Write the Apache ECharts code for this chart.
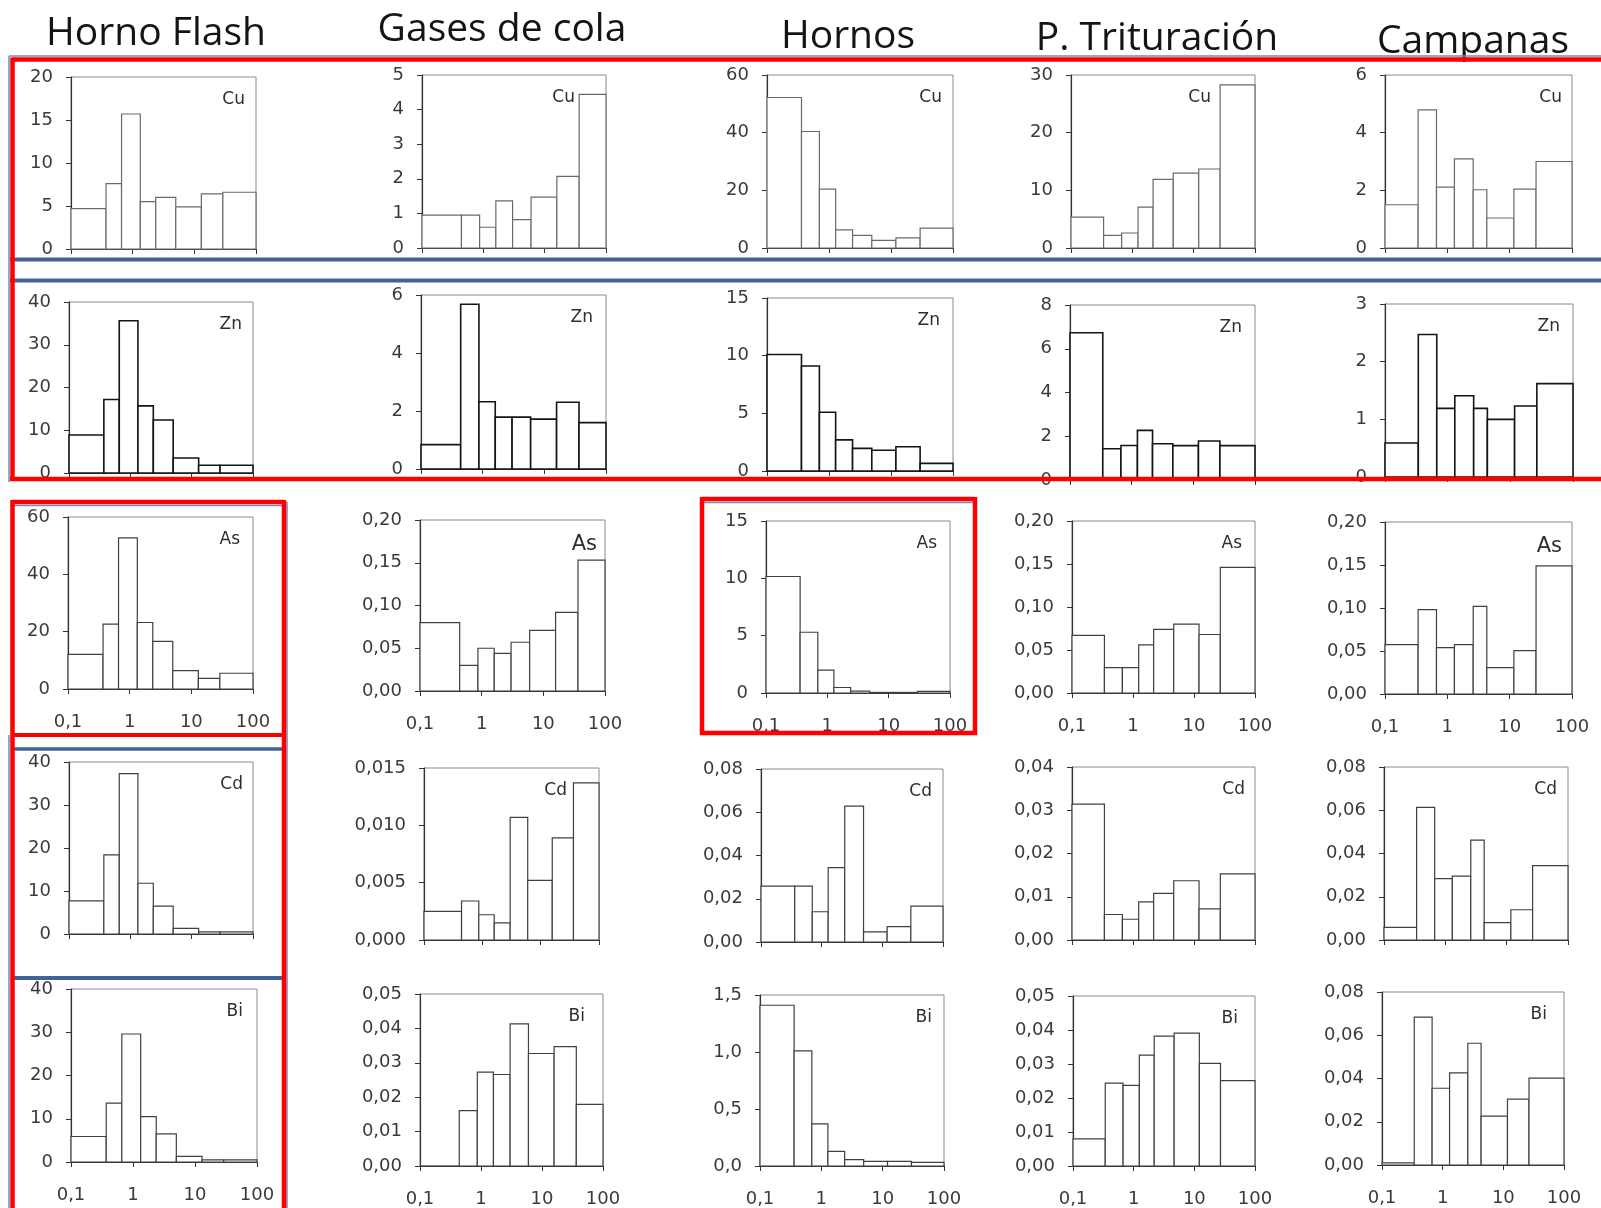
<!DOCTYPE html>
<html><head><meta charset="utf-8">
<script src="https://cdn.jsdelivr.net/npm/echarts@6/dist/echarts.min.js"></script>
<style>html,body{margin:0;padding:0;background:#fff}#c{width:1601px;height:1208px}</style>
</head><body><div id="c"></div>
<script>
// ---------- DATA ----------
const columns = ['Horno Flash', 'Gases de cola', 'Hornos', 'P. Trituración', 'Campanas'];
const elements = ['Cu', 'Zn', 'As', 'Cd', 'Bi'];
const xTickLabels = ['0,1', '1', '10', '100'];

// bin edges (particle size, log scale) per source
const edgesHornoFlash   = [0.1, 0.37, 0.66, 1.33, 2.37, 5.0, 13, 29, 100];
const edgesGases        = [0.1, 0.44, 0.87, 1.6, 3.0, 6.0, 15.8, 36.5, 100];
const edgesHornos       = [0.1, 0.36, 0.70, 1.28, 2.4, 4.9, 12, 29.5, 100];
const edgesTrituracion  = [0.1, 0.34, 0.67, 1.24, 2.18, 4.65, 12.1, 27, 100];
const edgesCampanas     = [0.1, 0.34, 0.67, 1.3, 2.6, 4.3, 11.7, 26.5, 100];

// Cu
const cuHornoFlash  = [4.7, 7.6, 15.7, 5.5, 6.0, 4.9, 6.4, 6.6];
const cuGases       = [0.95, 0.95, 0.6, 1.36, 0.82, 1.47, 2.07, 4.44];
const cuHornos      = [52.2, 40.4, 20.4, 6.3, 4.4, 2.65, 3.5, 6.9];
const cuTrituracion = [5.37, 2.19, 2.6, 7.1, 11.9, 13.0, 13.7, 28.3];
const cuCampanas    = [1.5, 4.79, 2.11, 3.09, 2.02, 1.04, 2.04, 3.0];
// Zn
const znHornoFlash  = [8.9, 17.2, 35.6, 15.7, 12.4, 3.5, 1.8, 1.8];
const znGases       = [0.84, 5.68, 2.32, 1.79, 1.79, 1.72, 2.3, 1.6];
const znHornos      = [10.1, 9.1, 5.1, 2.7, 1.96, 1.8, 2.1, 0.66];
const znTrituracion = [6.73, 1.43, 1.58, 2.27, 1.66, 1.57, 1.78, 1.57];
const znCampanas    = [0.59, 2.47, 1.19, 1.41, 1.19, 1.0, 1.23, 1.62];
// As
const asHornoFlash  = [12.1, 22.6, 52.7, 23.2, 16.6, 6.4, 3.7, 5.5];
const asGases       = [0.080, 0.030, 0.050, 0.044, 0.057, 0.071, 0.092, 0.153];
const asHornos      = [10.16, 5.3, 2.0, 0.48, 0.16, 0.05, 0.05, 0.15];
const asTrituracion = [0.067, 0.0296, 0.0296, 0.056, 0.074, 0.080, 0.068, 0.146];
const asCampanas    = [0.0575, 0.098, 0.054, 0.0575, 0.102, 0.0306, 0.0505, 0.149];
// Cd
const cdHornoFlash  = [7.7, 18.4, 37.3, 11.8, 6.5, 1.3, 0.5, 0.5];
const cdGases       = [0.0025, 0.0034, 0.0022, 0.0015, 0.0107, 0.0052, 0.0089, 0.0137];
const cdHornos      = [0.0258, 0.0258, 0.014, 0.0344, 0.0628, 0.0047, 0.0071, 0.0166];
const cdTrituracion = [0.0314, 0.0059, 0.0048, 0.0088, 0.0108, 0.0137, 0.0072, 0.0153];
const cdCampanas    = [0.0058, 0.0613, 0.0284, 0.0295, 0.0462, 0.008, 0.014, 0.0344];
// Bi
const biHornoFlash  = [5.9, 13.6, 29.6, 10.5, 6.5, 1.3, 0.5, 0.5];
const biGases       = [0, 0.0161, 0.0273, 0.0266, 0.0413, 0.0327, 0.0347, 0.0179];
const biHornos      = [1.41, 1.01, 0.37, 0.128, 0.056, 0.04, 0.04, 0.032];
const biTrituracion = [0.008, 0.0244, 0.0237, 0.0326, 0.0382, 0.0391, 0.0302, 0.0251];
const biCampanas    = [0.001, 0.0684, 0.0355, 0.0426, 0.0563, 0.0226, 0.0305, 0.0402];

// y-axis ranges (max, step) per element row, per column
const yMaxCu = [20, 5, 60, 30, 6];          const yStepCu = [5, 1, 20, 10, 2];
const yMaxZn = [40, 6, 15, 8, 3];           const yStepZn = [10, 2, 5, 2, 1];
const yMaxAs = [60, 0.20, 15, 0.20, 0.20];  const yStepAs = [20, 0.05, 5, 0.05, 0.05];
const yMaxCd = [40, 0.015, 0.08, 0.04, 0.08]; const yStepCd = [10, 0.005, 0.02, 0.01, 0.02];
const yMaxBi = [40, 0.05, 1.5, 0.05, 0.08]; const yStepBi = [10, 0.01, 0.5, 0.01, 0.02];

// ---------- LAYOUT ----------
// plot boxes [left, top, right, bottom] by row (Cu,Zn,As,Cd,Bi) and column
const boxes = [
  [[71,77,256,249],[422,75,606,248],[767,75,953,248],[1071,75,1255,248],[1385,75,1572,248]],
  [[69,302,253,473],[421,295,606,469],[767,298,953,471],[1070,305,1255,480],[1385,304,1573,477]],
  [[68,517,253,689],[420,520,605,691],[766,521,950,693],[1072,521,1255,693],[1385,522,1572,694]],
  [[69,762,253,934],[424,768,599,940],[761,769,943,942],[1072,767,1255,940],[1384,767,1568,940]],
  [[71,989,257,1162],[420,994,603,1167],[760,995,944,1169],[1073,996,1255,1169],[1382,992,1564,1165]]
];
const labelInset = [
  [11,31,11,44,10],
  [11,13,13,13,13],
  [13,8,13,13,10],
  [10,32,11,10,11],
  [14,18,12,17,17]
];
const titlePos = [[156,34],[502,30],[848,37],[1157,39],[1473,42]];

const edgesByCol = [edgesHornoFlash, edgesGases, edgesHornos, edgesTrituracion, edgesCampanas];
const valuesByRow = [
  [cuHornoFlash, cuGases, cuHornos, cuTrituracion, cuCampanas],
  [znHornoFlash, znGases, znHornos, znTrituracion, znCampanas],
  [asHornoFlash, asGases, asHornos, asTrituracion, asCampanas],
  [cdHornoFlash, cdGases, cdHornos, cdTrituracion, cdCampanas],
  [biHornoFlash, biGases, biHornos, biTrituracion, biCampanas]
];
const yMaxByRow = [yMaxCu, yMaxZn, yMaxAs, yMaxCd, yMaxBi];
const yStepByRow = [yStepCu, yStepZn, yStepAs, yStepCd, yStepBi];
const strokeByRow = ['#6a6a6a', '#141414', '#404040', '#404040', '#404040'];
const widthByRow = [1.2, 1.6, 1.2, 1.2, 1.2];
const showXLabelRow = [false, false, true, false, true];

const AX = '#333';
const LBL = '#3a3a3a';
const grids = [], xAxes = [], yAxes = [], series = [], graphics = [];

for (let r = 0; r < 5; r++) {
  for (let c = 0; c < 5; c++) {
    const k = grids.length;
    const b = boxes[r][c];
    grids.push({left: b[0], top: b[1], width: b[2] - b[0], height: b[3] - b[1],
      show: true, borderColor: '#8a8a8a', borderWidth: 1, backgroundColor: 'transparent'});
    xAxes.push({type: 'log', logBase: 10, gridIndex: k, min: 0.1, max: 100,
      axisLine: {show: true, onZero: false, lineStyle: {color: AX, width: 1.2}},
      axisTick: {show: true, length: 5, lineStyle: {color: AX}},
      minorTick: {show: false}, splitLine: {show: false},
      axisLabel: {show: showXLabelRow[r], margin: 24, fontFamily: 'DejaVu Sans', fontSize: 18, color: LBL,
        formatter: v => xTickLabels[Math.round(Math.log10(v)) + 1]}});
    const step = yStepByRow[r][c];
    const dec = (String(step).split('.')[1] || '').length;
    yAxes.push({type: 'value', gridIndex: k, min: 0, max: yMaxByRow[r][c], interval: step,
      axisLine: {show: true, lineStyle: {color: AX, width: 1.2}},
      axisTick: {show: true, length: 5, lineStyle: {color: AX}},
      splitLine: {show: false},
      axisLabel: {margin: 18, fontFamily: 'DejaVu Sans', fontSize: 18, color: LBL,
        formatter: v => v.toFixed(dec).replace('.', ',')}});
    const edges = edgesByCol[c];
    const vals = valuesByRow[r][c];
    const data = vals.map((v, j) => [edges[j], edges[j + 1], v]);
    const stroke = strokeByRow[r], lw = widthByRow[r];
    series.push({type: 'custom', xAxisIndex: k, yAxisIndex: k, data: data,
      encode: {x: [0, 1], y: 2}, silent: true,
      renderItem: function (params, api) {
        const p0 = api.coord([api.value(0), api.value(2)]);
        const p1 = api.coord([api.value(1), 0]);
        return {type: 'rect',
          shape: {x: p0[0], y: p0[1], width: p1[0] - p0[0], height: p1[1] - p0[1]},
          style: {fill: '#fff', stroke: stroke, lineWidth: lw}};
      }});
    const big = (r === 2 && (c === 1 || c === 4));
    graphics.push({type: 'text', z: 50,
      style: {text: elements[r], x: b[2] - labelInset[r][c], y: b[1] + (big ? 25 : 23),
        font: (big ? '21px' : '17px') + ' "DejaVu Sans"', fill: '#2e2e2e', align: 'right', verticalAlign: 'middle'}});
  }
}

columns.forEach((t, c) => {
  graphics.push({type: 'text', z: 40,
    style: {text: t, x: titlePos[c][0], y: titlePos[c][1], font: '39px "Open Sans"', fill: '#141414',
      align: 'center', verticalAlign: 'middle'}});
});

const RED = '#ff0000', BLUE = '#41639a', BLUE2 = '#6f8cb8';
function line(x1, y1, x2, y2, color, w, z) {
  graphics.push({type: 'line', z: z || 100, shape: {x1, y1, x2, y2},
    style: {stroke: color, lineWidth: w}});
}
// thin blue companions
line(9, 56, 1601, 56, BLUE2, 1.5, 90);
line(9, 56, 9, 482, BLUE2, 1.5, 90);
// thick blue separators between Cu and Zn rows
line(10, 259.5, 1601, 259.5, BLUE, 4, 95);
line(10, 280.5, 1601, 280.5, BLUE, 4, 95);
// top red box (Cu + Zn rows)
line(12.5, 59.5, 1610, 59.5, RED, 4.5);
line(12.5, 57.5, 12.5, 481, RED, 4.5);
line(10, 479, 1610, 479, RED, 4.5);
// Horno Flash As box
line(14, 505.5, 282, 505.5, BLUE2, 1.5, 90);
line(287, 502, 287, 1208, BLUE2, 1.5, 90);
line(9, 735, 9, 1208, BLUE2, 1.5, 90);
line(12.5, 502, 284, 502, RED, 4.5);
line(12.5, 500, 12.5, 1210, RED, 4.5);
line(284, 500, 284, 1210, RED, 4.5);
line(12.5, 735, 284, 735, RED, 4);
line(12, 749, 286, 749, BLUE, 3.5, 95);
line(12, 978, 286, 978, BLUE, 4, 95);
// Hornos As box
line(704, 502.5, 973, 502.5, BLUE2, 1.5, 90);
line(702, 499, 975, 499, RED, 4.5);
line(702, 497, 702, 735, RED, 4.5);
line(975, 497, 975, 735, RED, 4.5);
line(700, 733, 977, 733, RED, 4.5);

const chart = echarts.init(document.getElementById('c'));
chart.setOption({
  animation: false,
  backgroundColor: '#fff',
  grid: grids, xAxis: xAxes, yAxis: yAxes, series: series,
  graphic: graphics
});
</script></body></html>
